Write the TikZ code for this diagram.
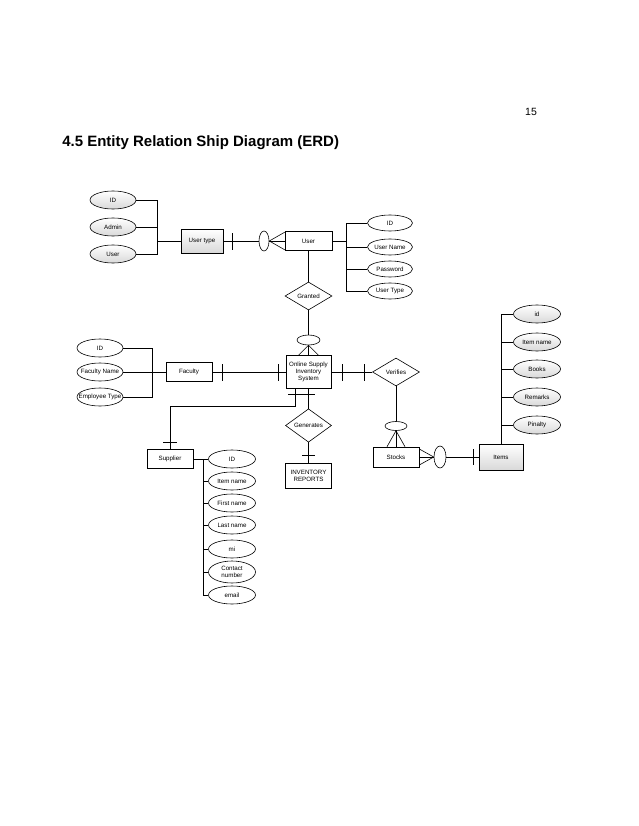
\documentclass[tikz,border=0pt]{standalone}
\usepackage{fontspec}
\setmainfont{Liberation Sans}
\usetikzlibrary{shapes.geometric}

\begin{document}
\begin{tikzpicture}[x=1pt,y=-1pt,line width=0.6pt,
    font=\fontsize{6.2}{7}\selectfont,
    ent/.style={draw,rectangle,minimum width=46pt,minimum height=19pt,inner sep=1pt,fill=white,align=center},
    shadeent/.style={ent,top color=white,bottom color=gray!30},
    attr/.style={draw,ellipse,minimum width=47pt,minimum height=18pt,inner sep=0pt,fill=white,align=center},
    shadeattr/.style={attr,top color=white,bottom color=gray!30},
    rel/.style={draw,diamond,minimum width=47pt,minimum height=28pt,inner sep=0pt,fill=white},
    opt/.style={draw,ellipse,inner sep=0pt,fill=white},
    optv/.style={opt,minimum width=10pt,minimum height=20pt},
    opth/.style={opt,minimum width=23pt,minimum height=10pt}]
            \useasboundingbox (0,0) rectangle (638,826);

            \node (pgno) at (531,112) {\fontsize{10.5}{12}\selectfont 15};
            \node[anchor=west,inner sep=0pt] (title) at (62,143)
                {\fontsize{15}{17}\selectfont\bfseries 4.5 Entity Relation Ship Diagram (ERD)};

            % user type
            \node[shadeattr,minimum width=46pt] (utid) at (113,200) {ID};
            \node[shadeattr,minimum width=46pt] (utadmin) at (113,227) {Admin};
            \node[shadeattr,minimum width=46pt] (utuser) at (113,254) {User};
            \node[shadeent,minimum width=42pt,minimum height=24pt] (usertype) at (202,241) {User type};
            \coordinate (utbus) at (157,241);
            \draw (utid.east) -| (utbus);
            \draw (utuser.east) -| (utbus);
            \draw (utadmin.east) -- (utadmin.east -| utbus);
            \draw (utbus) -- (usertype.west);

            % user
            \node[optv] (o1) at (264,241) {};
            \node[ent,minimum width=47pt] (user) at (308.5,241) {User};
            \draw (usertype.east) -- (o1.west);
            \draw (232,233) -- (232,250);
            \draw (o1.east) -- (user.west);
            \draw (o1.east) -- ([yshift=-1pt]user.north west);
            \draw (o1.east) -- ([yshift=1pt]user.south west);

            \node[attr,minimum width=45pt,minimum height=16pt] (uid) at (390,223) {ID};
            \node[attr,minimum width=45pt,minimum height=16pt,inner xsep=-3pt] (uname) at (390,247) {User Name};
            \node[attr,minimum width=45pt,minimum height=16pt] (upass) at (390,269) {Password};
            \node[attr,minimum width=45pt,minimum height=16pt,inner xsep=-3pt] (utype) at (390,291) {User Type};
            \coordinate (ubus) at (346,241);
            \draw (user.east) -- (ubus);
            \draw (uid.west) -| (ubus);
            \draw (utype.west) -| (ubus);
            \draw (uname.west) -- (uname.west -| ubus);
            \draw (upass.west) -- (upass.west -| ubus);

            % system
            \node[rel] (granted) at (308.5,296) {Granted};
            \draw (user.south) -- (granted.north);
            \node[opth] (o2) at (308.5,340) {};
            \draw (granted.south) -- (o2.north);
            \node[ent,minimum width=45pt,minimum height=33pt] (online) at (308.5,372)
                {Online Supply\\Inventory\\System};
            \draw (o2.south) -- (online.north);
            \draw (o2.south) -- ([xshift=-10pt]online.north);
            \draw (o2.south) -- ([xshift=10pt]online.north);

            % faculty
            \node[ent] (faculty) at (189,372) {Faculty};
            \node[attr,minimum width=46pt] (fid) at (100,348) {ID};
            \node[attr,minimum width=46pt,inner xsep=-6pt] (fname) at (100,372) {Faculty Name};
            \node[attr,minimum width=46pt,inner xsep=-12pt] (ftype) at (100,397) {Employee Type};
            \coordinate (fbus) at (152,372);
            \draw (fid.east) -| (fbus);
            \draw (ftype.east) -| (fbus);
            \draw (fname.east) -- (fbus);
            \draw (fbus) -- (faculty.west);
            \draw (faculty.east) -- (online.west);
            \draw (222,364) -- (222,381);
            \draw (278,364) -- (278,381);

            % verifies / stocks / items
            \node[rel] (verifies) at (396,372) {Verifies};
            \draw (online.east) -- (verifies.west);
            \draw (342,364) -- (342,381);
            \draw (364,364) -- (364,381);
            \node[opth,minimum width=22pt,minimum height=9pt] (o3) at (396,426) {};
            \draw (verifies.south) -- (o3.north);
            \node[ent,minimum height=20pt] (stocks) at (396,457) {Stocks};
            \draw (o3.south) -- (stocks.north);
            \draw (o3.south) -- ([xshift=-9pt]stocks.north);
            \draw (o3.south) -- ([xshift=9pt]stocks.north);
            \node[optv,minimum width=12pt,minimum height=22pt] (o4) at (440,457) {};
            \draw (o4.west) -- (stocks.east);
            \draw (o4.west) -- ([yshift=8pt]stocks.east);
            \draw (o4.west) -- ([yshift=-8pt]stocks.east);
            \node[shadeent,minimum width=44pt,minimum height=26pt] (items) at (501,457) {Items};
            \draw (o4.east) -- (items.west);
            \draw (473,449) -- (473,465);

            \node[shadeattr] (iid) at (537,314) {id};
            \node[shadeattr] (iname) at (537,342) {Item name};
            \node[shadeattr] (ibooks) at (537,369) {Books};
            \node[shadeattr] (iremarks) at (537,397) {Remarks};
            \node[shadeattr] (ipinalty) at (537,425) {Pinalty};
            \coordinate (ibus) at (501,314);
            \draw (items.north) -- (ibus);
            \draw (iid.west) -- (ibus);
            \draw (iname.west) -- (iname.west -| ibus);
            \draw (ibooks.west) -- (ibooks.west -| ibus);
            \draw (iremarks.west) -- (iremarks.west -| ibus);
            \draw (ipinalty.west) -- (ipinalty.west -| ibus);

            % generates / reports
            \node[rel,minimum width=46pt,minimum height=27pt] (generates) at (308.5,425.5) {Generates};
            \draw (online.south) -- (generates.north);
            \draw (302,394) -- (315,394);
            \node[ent,minimum height=25pt] (reports) at (308.5,475.5) {INVENTORY\\REPORTS};
            \draw (generates.south) -- (reports.north);
            \draw (302,455) -- (315,455);

            % supplier
            \node[ent] (supplier) at (170,459) {Supplier};
            \draw ([xshift=-13.5pt]online.south) -- ++(0,17) -| (supplier.north);
            \draw (288,394) -- (302,394);
            \draw (163,442) -- (177,442);

            \node[attr] (sid) at (232,459) {ID};
            \node[attr] (sitem) at (232,481) {Item name};
            \node[attr] (sfirst) at (232,503) {First name};
            \node[attr] (slast) at (232,525) {Last name};
            \node[attr] (smi) at (232,549) {mi};
            \node[attr,minimum height=22pt] (scontact) at (232,572) {Contact\\number};
            \node[attr] (semail) at (232,595) {email};
            \coordinate (stop) at (203,459);
            \coordinate (sbus) at (203,595);
            \draw (supplier.east) -- (sid.west);
            \draw (stop) -- (sbus);
            \draw (semail.west) -- (sbus);
            \draw (sitem.west) -- (sitem.west -| sbus);
            \draw (sfirst.west) -- (sfirst.west -| sbus);
            \draw (slast.west) -- (slast.west -| sbus);
            \draw (smi.west) -- (smi.west -| sbus);
            \draw (scontact.west) -- (scontact.west -| sbus);
        \end{tikzpicture}
\end{document}
